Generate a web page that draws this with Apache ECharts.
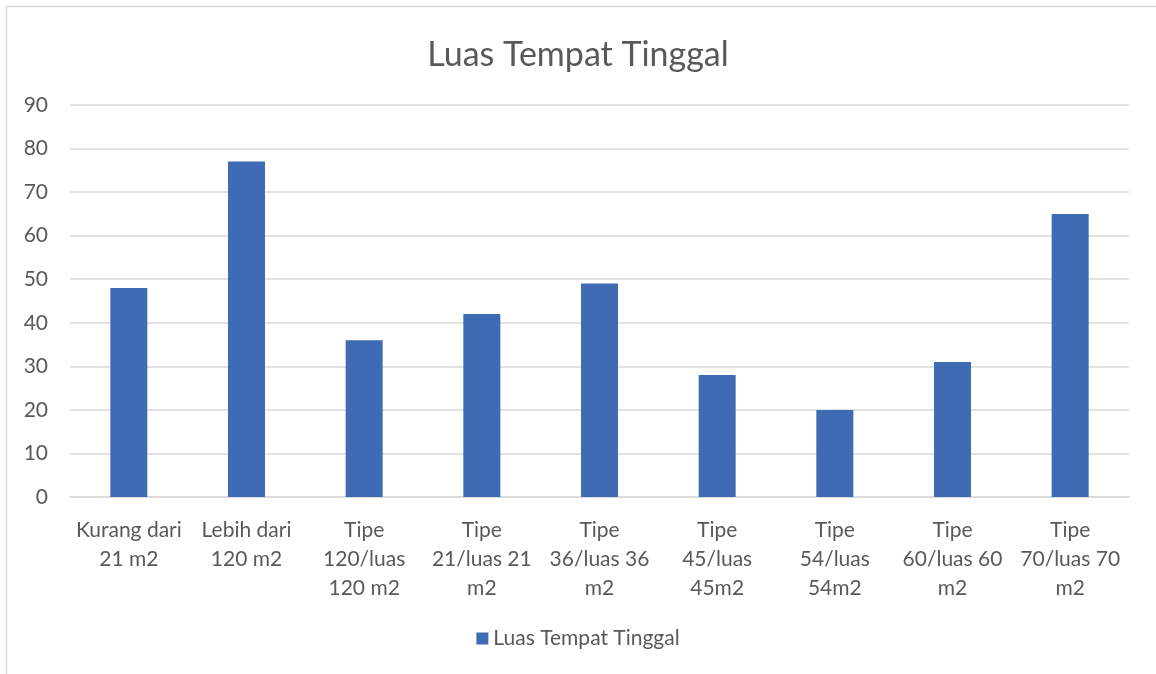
<!DOCTYPE html>
<html>
<head>
<meta charset="utf-8">
<script src="https://cdn.jsdelivr.net/npm/echarts@6/dist/echarts.min.js"></script>
<style>
  html, body { margin: 0; padding: 0; background: #fff; }
  #chart { width: 1156px; height: 674px; }
</style>
</head>
<body>
<div id="chart"></div>
<script>
// data
const categories = [
    'Kurang dari\n21 m2',
    'Lebih dari\n120 m2',
    'Tipe\n120/luas\n120 m2',
    'Tipe\n21/luas 21\nm2',
    'Tipe\n36/luas 36\nm2',
    'Tipe\n45/luas\n45m2',
    'Tipe\n54/luas\n54m2',
    'Tipe\n60/luas 60\nm2',
    'Tipe\n70/luas 70\nm2'
];
const seriesName = 'Luas Tempat Tinggal';
const values = [48, 77, 36, 42, 49, 28, 20, 31, 65];

const textColor = '#595959';
const fontFamily = 'Lato, "Open Sans", sans-serif';

const chart = echarts.init(document.getElementById('chart'));

chart.setOption({
    animation: false,
    textStyle: { fontFamily: fontFamily },
    graphic: [{
        type: 'rect',
        shape: { x: 6.5, y: 6.5, width: 1200, height: 700 },
        style: { fill: 'none', stroke: '#d9d9d9', lineWidth: 1.5 },
        silent: true
    }],
    title: {
        text: 'Luas Tempat Tinggal',
        left: 'center',
        top: 33,
        textStyle: { color: textColor, fontSize: 34, fontWeight: 'normal', fontFamily: fontFamily }
    },
    legend: {
        bottom: 20,
        left: 'center',
        itemWidth: 12,
        itemHeight: 12,
        itemGap: 8,
        icon: 'rect',
        textStyle: { color: textColor, fontSize: 21, fontFamily: fontFamily },
        data: [seriesName]
    },
    grid: { left: 70, right: 27, top: 105, bottom: 177 },
    xAxis: {
        type: 'category',
        data: categories,
        axisLine: { lineStyle: { color: '#d9d9d9', width: 1.5 } },
        axisTick: { show: false },
        axisLabel: {
            color: textColor,
            fontSize: 21,
            lineHeight: 29,
            margin: 19,
            interval: 0,
            fontFamily: fontFamily
        }
    },
    yAxis: {
        type: 'value',
        min: 0,
        max: 90,
        interval: 10,
        axisLine: { show: false },
        axisTick: { show: false },
        splitLine: { lineStyle: { color: '#d9d9d9', width: 1.5 } },
        axisLabel: { color: textColor, fontSize: 21, margin: 22, fontFamily: fontFamily }
    },
    series: [{
        name: seriesName,
        type: 'bar',
        data: values,
        barWidth: 37,
        itemStyle: { color: '#3f6bb4' }
    }]
});
</script>
</body>
</html>
